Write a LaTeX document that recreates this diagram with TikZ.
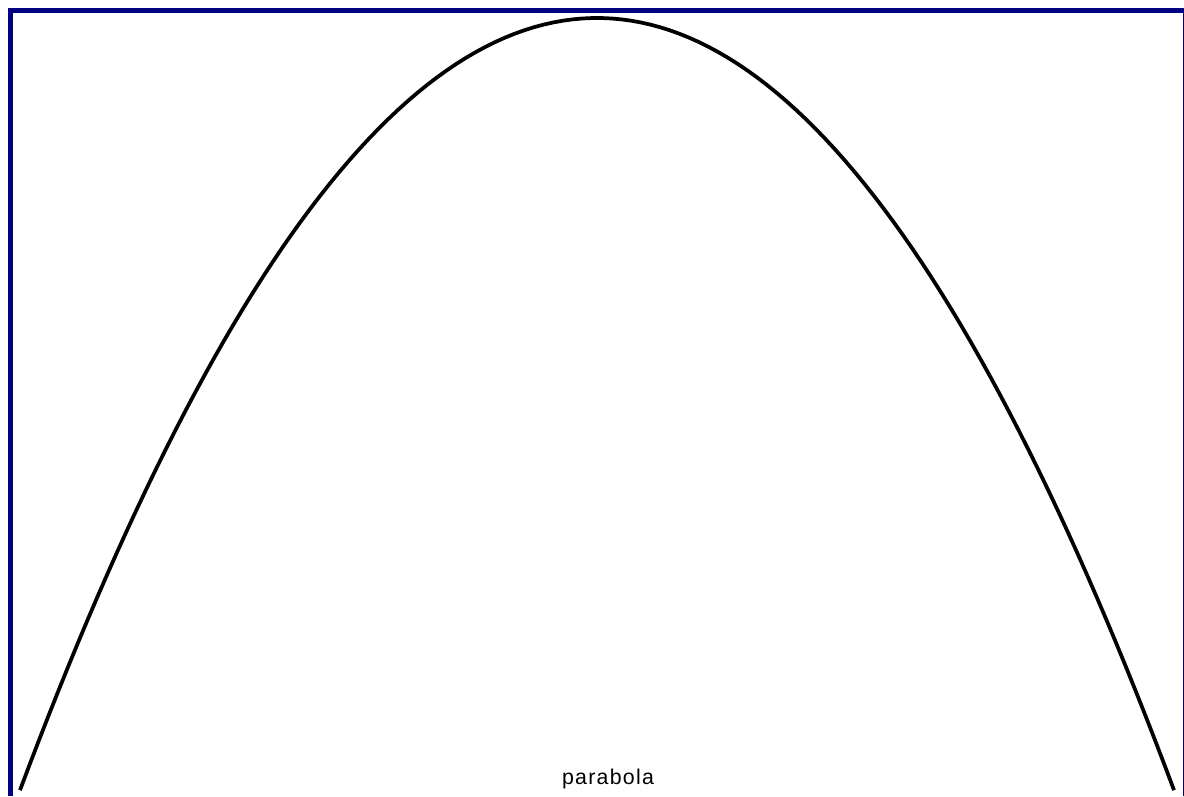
\documentclass[tikz,border=0pt]{standalone}
\usepackage{fontspec}
\setmainfont{Liberation Sans}
\definecolor{framecol}{RGB}{0,0,128}
\begin{document}
\begin{tikzpicture}[x=0.75pt,y=-0.75pt,
  frameline/.style={draw=framecol,line cap=butt},
  curveline/.style={draw=black,line width=2.8pt,line join=round},
  labeltext/.style={font=\fontsize{16}{19}\selectfont\addfontfeatures{LetterSpace=6},anchor=base,inner sep=0pt}]
\useasboundingbox (0,0) rectangle (1184,796);
\fill[white] (0,0) rectangle (1184,796);
% frame
\draw[frameline,line width=3.75pt] (8,10.5) -- (1184,10.5);
\draw[frameline,line width=3.75pt] (10.5,8) -- (10.5,796);
\draw[frameline,line width=0.9pt] (1183.4,8) -- (1183.4,796);
% parabola
\draw[curveline] plot[domain=20:1174,samples=120] (\x,{18+0.002313*(\x-597)*(\x-597)});
\node[labeltext] (lbl) at (608,784) {parabola};
\end{tikzpicture}
\end{document}
